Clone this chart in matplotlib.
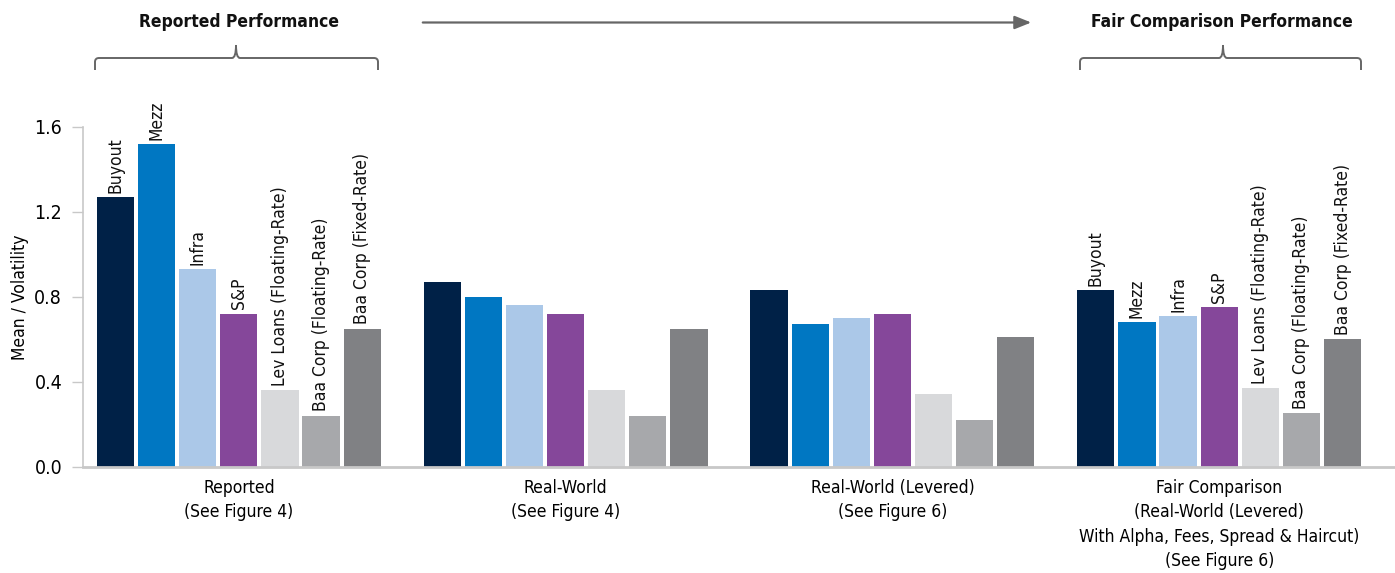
import matplotlib
matplotlib.use("Agg")
import matplotlib.pyplot as plt
import numpy as np
from matplotlib.path import Path
from matplotlib.patches import PathPatch, FancyArrowPatch

plt.rcParams["font.family"] = ["Liberation Sans Narrow", "DejaVu Sans"]
plt.rcParams["font.stretch"] = "condensed"

groups = [
    "Reported\n(See Figure 4)",
    "Real-World\n(See Figure 4)",
    "Real-World (Levered)\n(See Figure 6)",
    "Fair Comparison\n(Real-World (Levered)\nWith Alpha, Fees, Spread & Haircut)\n(See Figure 6)",
]
assets = ["Buyout", "Mezz", "Infra", "S&P", "Lev Loans (Floating-Rate)",
          "Baa Corp (Floating-Rate)", "Baa Corp (Fixed-Rate)"]
colors = ["#002147", "#0077c2", "#abc8e8", "#85479a", "#d8d9db", "#a7a8ab", "#808184"]

# mean / volatility per asset, one row per scenario
reported = [1.27, 1.52, 0.93, 0.72, 0.36, 0.24, 0.65]
real_world = [0.87, 0.80, 0.76, 0.72, 0.36, 0.24, 0.65]
real_world_lev = [0.83, 0.67, 0.70, 0.72, 0.34, 0.22, 0.61]
fair = [0.83, 0.68, 0.71, 0.75, 0.37, 0.25, 0.60]
values = [reported, real_world, real_world_lev, fair]
labelled = [0, 3]  # scenarios with asset names over the bars

W, H = 1395, 573
fig = plt.figure(figsize=(W / 100, H / 100), dpi=100)
ax = fig.add_axes([83 / W, 1 - 466.5 / H, (W - 83) / W, (466.5 - 127) / H])

step, width = 0.1258, 0.114
offsets = (np.arange(len(assets)) - 3) * step
for g, vals in enumerate(values):
    for k, v in enumerate(vals):
        x = g + offsets[k]
        ax.bar(x, v, width=width, color=colors[k], linewidth=0)
        if g in labelled:
            ax.text(x, v + 0.02, assets[k], rotation=90, ha="center", va="bottom",
                    fontsize=12.5, color="#111111")

ax.set_xlim(-0.477, 3.538)
ax.set_ylim(0, 1.6)
ax.set_yticks([0, 0.4, 0.8, 1.2, 1.6])
ax.set_yticklabels(["0.0", "0.4", "0.8", "1.2", "1.6"])
ax.set_xticks(range(4))
ax.set_xticklabels(groups, fontsize=12.5, linespacing=1.45)
ax.tick_params(axis="x", length=0, pad=9)
ax.tick_params(axis="y", length=8, width=1, color="#c8c8c8", labelsize=14, pad=7)
for s in ["top", "right"]:
    ax.spines[s].set_visible(False)
ax.spines["left"].set_color("#c8c8c8")
ax.spines["bottom"].set_color("#c8c8c8")
ax.spines["left"].set_linewidth(1.2)
ax.spines["bottom"].set_linewidth(2)
ax.set_ylabel("Mean / Volatility", fontsize=12.5, labelpad=4)


def brace(x0, x1, xm):
    # curly bracket in figure pixels (top-left origin)
    yt, yh, yb, r = 45, 58, 70, 4
    pts = [(x0, yb), (x0, yh + r), (x0, yh), (x0 + r, yh), (xm - r, yh),
           (xm, yh), (xm, yt), (xm, yh), (xm + r, yh), (x1 - r, yh),
           (x1, yh), (x1, yh + r), (x1, yb)]
    codes = [Path.MOVETO, Path.LINETO, Path.CURVE3, Path.CURVE3, Path.LINETO,
             Path.CURVE3, Path.CURVE3, Path.CURVE3, Path.CURVE3, Path.LINETO,
             Path.CURVE3, Path.CURVE3, Path.LINETO]
    pts = [(x / W, 1 - y / H) for x, y in pts]
    fig.add_artist(PathPatch(Path(pts, codes), fill=False, lw=1.4, ec="#666666",
                             transform=fig.transFigure))


brace(95, 378, 236)
brace(1080, 1361, 1223)
fig.text(239 / W, 1 - 22 / H, "Reported Performance", ha="center", va="center",
         fontsize=12.5, fontweight="bold", color="#111111")
fig.text(1222 / W, 1 - 22 / H, "Fair Comparison Performance", ha="center", va="center",
         fontsize=12.5, fontweight="bold", color="#111111")
fig.add_artist(FancyArrowPatch((420 / W, 1 - 22.5 / H), (1034 / W, 1 - 22.5 / H),
                               transform=fig.transFigure, arrowstyle="-|>,head_length=10,head_width=4",
                               mutation_scale=1, lw=1.6, color="#666666"))

fig.savefig("out.png", dpi=100)
